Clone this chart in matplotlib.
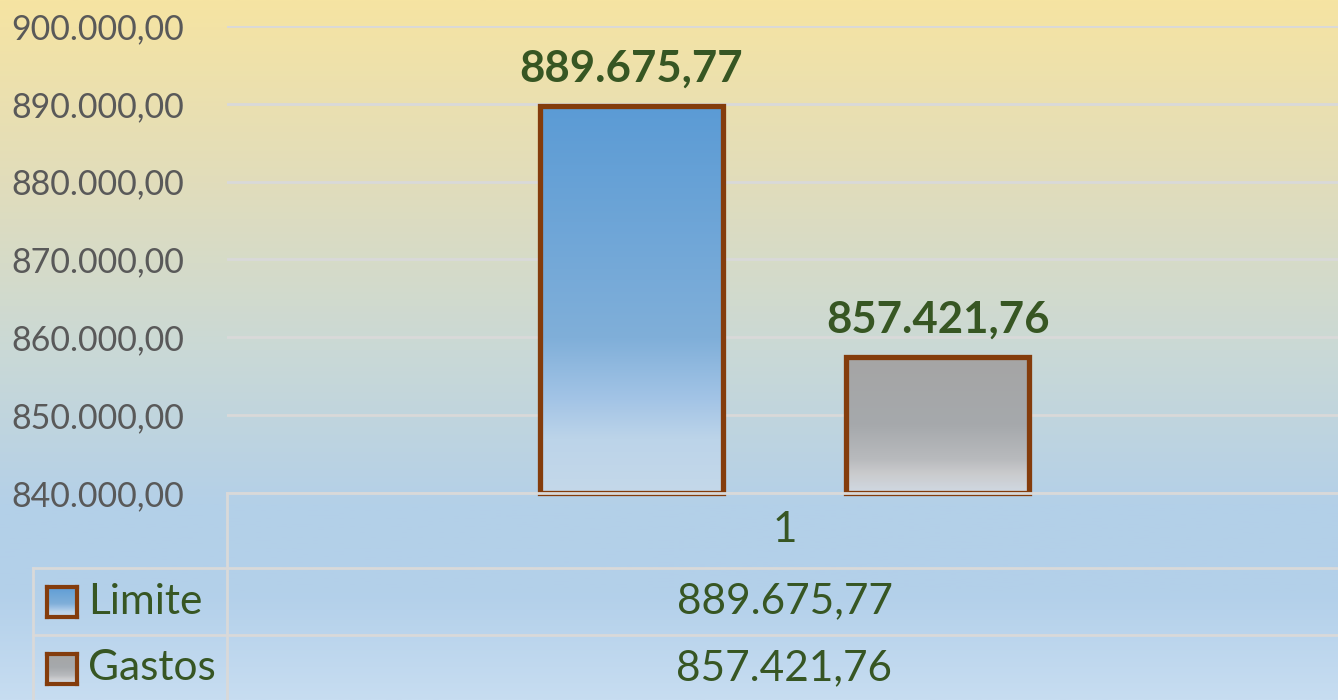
import numpy as np
import matplotlib

matplotlib.use("Agg")
import matplotlib.pyplot as plt
from matplotlib.colors import LinearSegmentedColormap
from matplotlib.lines import Line2D

# data
series = ["Limite", "Gastos"]
values = [889675.77, 857421.76]
category = "1"
y_min, y_max, y_step = 840000, 900000, 10000

GREEN = "#375623"
GRAY_TXT = "#595959"
BROWN = "#843C0C"
GRID = "#D9D9D9"

# gradient stops (top -> bottom) for each bar
grad_stops = [
    [(0.0, "#5B9BD5"), (0.6, "#80AFD9"), (0.76, "#A3C4E6"), (0.86, "#BCD4E9"), (1.0, "#C4D8EA")],
    [(0.0, "#A5A5A5"), (0.5, "#A6A9AC"), (0.75, "#B8BABD"), (0.86, "#CACBCD"), (1.0, "#D0D9E3")],
]
bg_stops = [(0.0, "#F6E4A2"), (0.25, "#E2DDBA"), (0.5, "#CAD9D6"), (0.72, "#B4D0E8"),
            (0.85, "#B3D0EA"), (1.0, "#C7DDF1")]

W, H = 1338, 700
plt.rcParams["font.family"] = ["Lato", "DejaVu Sans"]


def fmt_br(v):
    s = f"{v:,.2f}"
    return s.replace(",", "X").replace(".", ",").replace("X", ".")


def vgrad(stops, n=256):
    cmap = LinearSegmentedColormap.from_list("g", stops)
    return cmap(np.linspace(0, 1, n))[:, None, :3]


fig = plt.figure(figsize=(W / 100, H / 100), dpi=100)

# background gradient
bg = fig.add_axes([0, 0, 1, 1], zorder=-10)
bg.imshow(vgrad(bg_stops), aspect="auto", extent=(0, 1, 0, 1))
bg.set_axis_off()

# plot area (pixel box)
left, right, top, bottom = 227, 1342, 26, 493
ax = fig.add_axes([left / W, 1 - bottom / H, (right - left) / W, (bottom - top) / H])
ax.set_facecolor("none")
ax.set_xlim(-0.5, 0.5)
ax.set_ylim(y_min, y_max)

offsets = [-0.1375, 0.1375]
bw = 0.164
bars = ax.bar(offsets, [v - y_min for v in values], bottom=y_min, width=bw,
              facecolor="none", edgecolor=BROWN, linewidth=3.8, zorder=4,
              clip_on=False)
for b, stops in zip(bars, grad_stops):
    x0, y0 = b.get_x(), b.get_y()
    im = ax.imshow(vgrad(stops), aspect="auto", zorder=3,
                   extent=(x0, x0 + b.get_width(), y0, y0 + b.get_height()))
    im.set_clip_path(b)

for b, v in zip(bars, values):
    ax.annotate(fmt_br(v), (b.get_x() + b.get_width() / 2, b.get_y() + b.get_height()),
                xytext=(0, 13), textcoords="offset points", ha="center", va="bottom",
                fontsize=31.5, fontweight="bold", color=GREEN)

ticks = np.arange(y_min, y_max + 1, y_step)
ax.set_yticks(ticks)
ax.set_yticklabels([fmt_br(t) for t in ticks])
ax.tick_params(axis="y", length=0, labelsize=24.5, labelcolor=GRAY_TXT)
ax.set_xticks([])
for lab in ax.get_yticklabels():
    lab.set_horizontalalignment("left")
    lab.set_x(-211 / (right - left))
ax.grid(axis="y", color=GRID, linewidth=2, zorder=0)
for s in ax.spines.values():
    s.set_visible(False)
ax.autoscale(False)

# data table
row_y = [493, 568, 635, 702]
tbl_left, col_x = 33, 227


def fx(px):
    return px / W


def fy(py):
    return 1 - py / H


fig.add_artist(Line2D([fx(col_x), 1], [fy(row_y[0])] * 2, color=GRID, lw=2))
for ry in row_y[1:]:
    fig.add_artist(Line2D([fx(tbl_left), 1], [fy(ry)] * 2, color=GRID, lw=2))
fig.add_artist(Line2D([fx(col_x)] * 2, [fy(row_y[0]), fy(H)], color=GRID, lw=2))
fig.add_artist(Line2D([fx(tbl_left)] * 2, [fy(row_y[1]), fy(H)], color=GRID, lw=2))

cx = fx((left + right) / 2)
fig.text(cx, fy((row_y[0] + row_y[1]) / 2), category, ha="center", va="center",
         fontsize=30.5, color=GREEN)
for i, (name, v) in enumerate(zip(series, values)):
    yc = (row_y[i + 1] + row_y[i + 2]) / 2
    fig.text(cx, fy(yc), fmt_br(v), ha="center", va="center", fontsize=30.5, color=GREEN)
    fig.text(fx(88), fy(yc), name, ha="left", va="center", fontsize=30.5, color=GREEN)
    key = fig.add_axes([fx(47), fy(yc + 15), fx(30), 30 / H])
    key.imshow(vgrad(grad_stops[i]), aspect="auto", extent=(0, 1, 0, 1))
    key.set_xticks([])
    key.set_yticks([])
    for s in key.spines.values():
        s.set_color(BROWN)
        s.set_linewidth(3)

fig.savefig("out.png", dpi=100)
